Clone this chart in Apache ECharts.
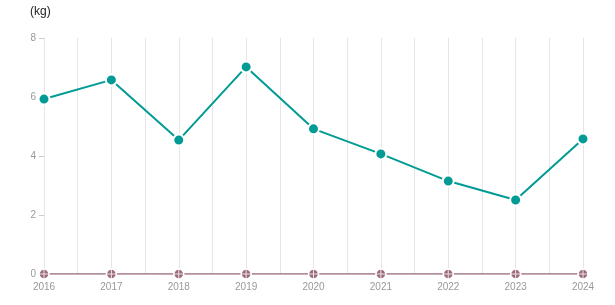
<!DOCTYPE html>
<html>
<head>
<meta charset="utf-8">
<script src="https://cdn.jsdelivr.net/npm/echarts@6/dist/echarts.min.js"></script>
<style>html,body{margin:0;padding:0;background:#fff;}#c{width:615px;height:305px;}</style>
</head>
<body>
<div id="c"></div>
<script>
var years = [2016, 2017, 2018, 2019, 2020, 2021, 2022, 2023, 2024];
var mainValues = [5.93, 6.58, 4.54, 7.02, 4.92, 4.07, 3.15, 2.51, 4.58];
var baseValues = [0, 0, 0, 0, 0, 0, 0, 0, 0];
var yTicks = [0, 2, 4, 6, 8];
var unitLabel = '(kg)';

function pairs(vals) { return years.map(function (y, i) { return [y, vals[i]]; }); }

var chart = echarts.init(document.getElementById('c'), null, {renderer: 'canvas'});
chart.setOption({
  animation: false,
  title: {
    text: unitLabel, left: 25, top: 1,
    textStyle: {fontFamily: 'Arial, Liberation Sans', fontSize: 12, fontWeight: 'normal', color: '#222'}
  },
  grid: {left: 44, right: 32, top: 38, bottom: 31, containLabel: false},
  xAxis: {
    type: 'value', min: years[0], max: years[years.length - 1], interval: 1,
    axisLine: {show: false},
    axisTick: {show: false},
    axisLabel: {color: '#999', fontSize: 10, fontFamily: 'Arial, Liberation Sans', margin: 8,
      formatter: function (v) { return String(v); }},
    splitLine: {show: true, lineStyle: {color: '#e6e6e6', width: 1}},
    minorTick: {show: false, splitNumber: 2},
    minorSplitLine: {show: true, lineStyle: {color: '#e6e6e6', width: 1}}
  },
  yAxis: {
    type: 'value', min: yTicks[0], max: yTicks[yTicks.length - 1], interval: 2,
    axisLine: {show: false},
    axisTick: {show: true, length: 5, lineStyle: {color: '#ccc'}},
    axisLabel: {color: '#999', fontSize: 10, fontFamily: 'Arial, Liberation Sans', margin: 8},
    splitLine: {show: false}
  },
  series: [
    {
      type: 'line', data: pairs(baseValues), color: '#9c6b79',
      lineStyle: {width: 1.5, color: '#9c6b79'},
      symbol: 'circle', symbolSize: 10,
      itemStyle: {color: '#9c6b79', borderColor: '#fff', borderWidth: 1.5},
      z: 2
    },
    {
      type: 'scatter', data: pairs(baseValues), silent: true,
      symbol: 'path://M4.5,0H5.5V10H4.5Z M0,4.5H10V5.5H0Z', symbolSize: 10,
      itemStyle: {color: '#fff'}, z: 3
    },
    {
      type: 'line', data: pairs(mainValues), color: '#009b95',
      lineStyle: {width: 2, color: '#009b95'},
      symbol: 'circle', symbolSize: 11,
      itemStyle: {color: '#009b95', borderColor: '#fff', borderWidth: 2},
      z: 4
    }
  ]
});
</script>
</body>
</html>
